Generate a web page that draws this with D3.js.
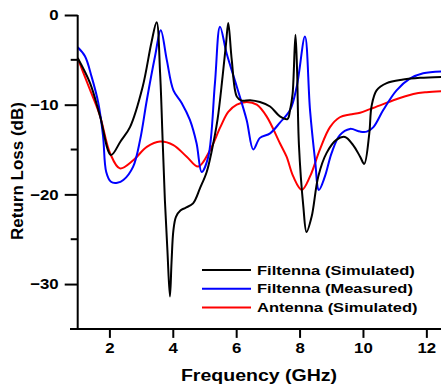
<!DOCTYPE html>
<html>
<head>
<meta charset="utf-8">
<script src="https://cdn.jsdelivr.net/npm/d3@7/dist/d3.min.js"></script>
<style>
  body { margin: 0; background: #fff; }
  svg { display: block; font-family: "Liberation Sans", Arial, sans-serif; font-weight: bold; }
</style>
</head>
<body>
<svg id="chart" width="441" height="385"></svg>
<script>
// Frequency (GHz) / return loss (dB)
const simFreq = [1.00, 1.39, 1.70, 2.05, 2.35, 2.65, 3.05, 3.33, 3.49, 3.60, 3.68, 3.75, 3.83, 3.91, 3.96, 4.02, 4.10, 4.24, 4.40, 4.64, 4.86, 5.07, 5.22, 5.41, 5.57, 5.68, 5.75, 5.86, 6.02, 6.17, 6.44, 6.75, 7.07, 7.38, 7.62, 7.70, 7.78, 7.87, 7.92, 7.98, 8.12, 8.22, 8.38, 8.59, 8.85, 9.17, 9.43, 9.69, 9.91, 10.04, 10.20, 10.27, 10.43, 10.75, 11.27, 11.80, 12.50];
const simLoss = [-4.8, -7.6, -11.2, -15.6, -14.1, -12.5, -8.0, -3.0, -0.8, -6.5, -14.0, -20.6, -26.2, -31.4, -27.6, -24.0, -22.5, -21.8, -21.5, -21.0, -19.3, -17.5, -15.3, -11.7, -6.9, -3.2, -0.9, -5.0, -9.1, -9.55, -9.5, -9.7, -10.2, -11.3, -11.6, -10.6, -8.8, -2.2, -6.0, -14.5, -21.4, -24.2, -22.5, -18.0, -15.4, -13.9, -13.6, -14.5, -15.8, -16.6, -13.2, -10.2, -8.4, -7.6, -7.2, -7.0, -6.9];

const measFreq = [1.00, 1.23, 1.44, 1.65, 1.80, 1.90, 2.05, 2.25, 2.44, 2.75, 2.97, 3.18, 3.44, 3.62, 3.81, 4.02, 4.28, 4.54, 4.75, 4.91, 5.12, 5.33, 5.49, 5.70, 6.02, 6.33, 6.54, 6.75, 7.07, 7.38, 7.70, 7.91, 8.17, 8.33, 8.49, 8.61, 8.80, 9.01, 9.27, 9.59, 9.91, 10.12, 10.33, 10.64, 11.06, 11.48, 11.90, 12.50];
const measLoss = [-3.6, -4.6, -6.9, -9.8, -13.5, -17.5, -18.6, -18.7, -18.4, -16.9, -13.9, -9.5, -4.6, -1.7, -5.0, -8.4, -9.8, -11.7, -14.3, -17.5, -15.8, -7.6, -1.3, -4.3, -8.0, -11.7, -15.0, -13.7, -13.2, -12.0, -10.6, -8.0, -2.4, -10.6, -16.2, -19.5, -18.0, -15.4, -13.4, -12.7, -13.0, -13.0, -12.5, -10.6, -8.4, -7.1, -6.5, -6.3];

const antFreq = [1.00, 1.35, 1.70, 2.02, 2.33, 2.75, 3.18, 3.60, 4.02, 4.44, 4.80, 5.17, 5.50, 5.75, 6.02, 6.33, 6.65, 6.96, 7.38, 7.59, 7.80, 8.07, 8.33, 8.64, 8.96, 9.27, 9.59, 9.91, 10.22, 10.60, 10.96, 11.59, 12.00, 12.50];
const antLoss = [-4.8, -8.0, -11.2, -15.4, -17.1, -16.2, -14.7, -14.1, -14.5, -15.8, -16.9, -15.1, -12.5, -10.8, -10.0, -9.7, -10.0, -11.3, -14.3, -15.8, -18.0, -19.5, -18.0, -15.0, -12.5, -11.4, -11.1, -10.9, -10.5, -10.0, -9.5, -8.8, -8.6, -8.5];

const xTicks = [2, 4, 6, 8, 10, 12];
const yTicks = [0, -10, -20, -30];
const yMinorTicks = [-5, -15, -25];

const seriesNames = ['Filtenna (Simulated)', 'Filtenna (Measured)', 'Antenna (Simulated)'];
const seriesColors = ['#000000', '#0000ff', '#ff0000'];

const svg = d3.select('#chart');

const x = d3.scaleLinear().domain([1, 12.5]).range([77.7, 442.2]);
const y = d3.scaleLinear().domain([-35, 0]).range([328.9, 15]);

// stretch text a bit wider, the original font is broader than Liberation
function widen(sel, factor) {
  sel.each(function () {
    const len = this.getComputedTextLength();
    d3.select(this).attr('textLength', len * factor).attr('lengthAdjust', 'spacingAndGlyphs');
  });
}

// curves
const line = d3.line()
  .x(d => x(d[0]))
  .y(d => y(d[1]))
  .curve(d3.curveCatmullRom.alpha(0.5));

const series = [
  d3.zip(simFreq, simLoss),
  d3.zip(measFreq, measLoss),
  d3.zip(antFreq, antLoss)
];

// draw red first so black sits on top
[2, 1, 0].forEach(i => {
  svg.append('path')
    .datum(series[i])
    .attr('fill', 'none')
    .attr('stroke', seriesColors[i])
    .attr('stroke-width', 2)
    .attr('stroke-linejoin', 'round')
    .attr('d', line);
});

// x axis
const xAxis = svg.append('g')
  .attr('transform', `translate(0,${y(-35)})`)
  .call(d3.axisBottom(x).tickValues(xTicks).tickSize(9).tickPadding(4).tickFormat(d3.format('d')));
xAxis.select('.domain').attr('d', `M70,0H441`).attr('stroke-width', 2);
xAxis.selectAll('.tick line').attr('stroke-width', 2);
xAxis.selectAll('.tick text').attr('font-size', 15).attr('fill', '#000').call(widen, 1.12);

// y axis
const yAxis = svg.append('g')
  .attr('transform', `translate(${x(1)},0)`)
  .call(d3.axisLeft(y).tickValues(yTicks).tickSize(13).tickPadding(6).tickFormat(d3.format('d')));
yAxis.select('.domain').attr('d', `M0,${y(0)}V${y(-35)}`).attr('stroke-width', 2);
yAxis.selectAll('.tick line').attr('stroke-width', 2);
yAxis.selectAll('.tick text').attr('font-size', 15).attr('fill', '#000').call(widen, 1.12);

// minor y ticks
yAxis.selectAll('.minor')
  .data(yMinorTicks)
  .enter().append('line')
  .attr('class', 'minor')
  .attr('x1', -7).attr('x2', 0)
  .attr('y1', d => y(d)).attr('y2', d => y(d))
  .attr('stroke', '#000')
  .attr('stroke-width', 2);

// axis titles
svg.append('text')
  .attr('x', 259)
  .attr('y', 381)
  .attr('text-anchor', 'middle')
  .attr('font-size', 16)
  .text('Frequency (GHz)')
  .call(widen, 1.22);

svg.append('text')
  .attr('transform', 'translate(23,171) rotate(-90)')
  .attr('text-anchor', 'middle')
  .attr('font-size', 17)
  .text('Return Loss (dB)');

// legend
const legend = svg.append('g').attr('transform', 'translate(202,270)');
seriesNames.forEach((name, i) => {
  const row = legend.append('g').attr('transform', `translate(0,${i * 18.7})`);
  row.append('line')
    .attr('x1', 0).attr('x2', 49)
    .attr('stroke', seriesColors[i])
    .attr('stroke-width', 2);
  row.append('text')
    .attr('x', 55)
    .attr('y', 4.5)
    .attr('font-size', 13)
    .text(name)
    .call(widen, 1.27);
});
</script>
</body>
</html>
